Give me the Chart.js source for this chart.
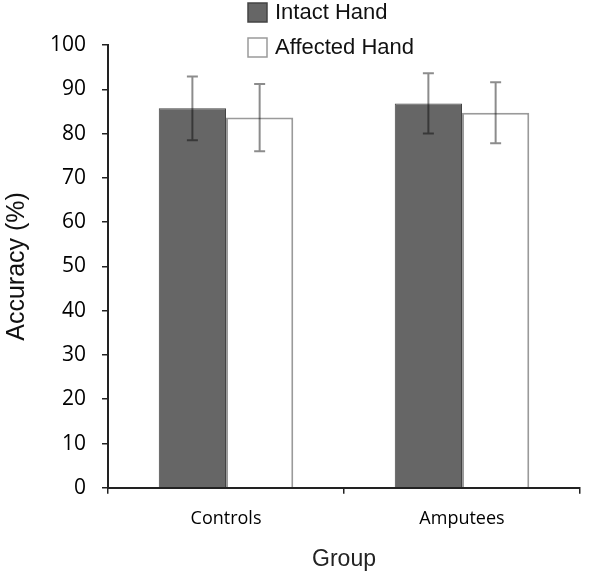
<!DOCTYPE html>
<html>
<head>
<meta charset="utf-8">
<script src="https://cdn.jsdelivr.net/npm/chart.js@4"></script>
<style>
  html, body { margin: 0; padding: 0; background: #fff; }
  #wrap { width: 600px; height: 574px; position: relative; }
</style>
</head>
<body>
<div id="wrap"><canvas id="chart"></canvas></div>
<script>
// ─── Data ─────────────────────────────────────────────────────────────────────
const groups     = ['Controls', 'Amputees'];
const intactMean = [85.7, 86.8];
const intactSd   = [7.2, 6.8];
const affectMean = [83.6, 84.7];
const affectSd   = [7.6, 6.9];
const yTicks     = [0, 10, 20, 30, 40, 50, 60, 70, 80, 90, 100];

const sdByDataset = [intactSd, affectSd];

// ─── Error bars ───────────────────────────────────────────────────────────────
const errorBars = {
  id: 'errorBars',
  afterDatasetsDraw(chart) {
    const { ctx, scales: { y } } = chart;
    ctx.save();
    ctx.strokeStyle = 'rgba(0,0,0,0.45)';
    ctx.lineWidth = 2;
    chart.data.datasets.forEach((ds, di) => {
      chart.getDatasetMeta(di).data.forEach((bar, i) => {
        const m = ds.data[i], sd = sdByDataset[di][i];
        const top = y.getPixelForValue(m + sd);
        const bot = y.getPixelForValue(m - sd);
        const x = bar.x;
        ctx.beginPath();
        ctx.moveTo(x, top); ctx.lineTo(x, bot);
        ctx.moveTo(x - 5.5, top); ctx.lineTo(x + 5.5, top);
        ctx.moveTo(x - 5.5, bot); ctx.lineTo(x + 5.5, bot);
        ctx.stroke();
      });
    });
    ctx.restore();
  }
};

// ─── Stacked legend, top centre ───────────────────────────────────────────────
const stackedLegend = {
  id: 'stackedLegend',
  afterDraw(chart) {
    const { ctx } = chart;
    ctx.save();
    ctx.font = '22px "Liberation Sans", Arial, sans-serif';
    ctx.textBaseline = 'middle';
    chart.data.datasets.forEach((ds, i) => {
      const yc = 12 + i * 35;
      ctx.fillStyle = ds.backgroundColor;
      ctx.strokeStyle = ds.borderColor;
      ctx.lineWidth = 1.5;
      ctx.fillRect(248, yc - 9, 19, 19);
      ctx.strokeRect(248, yc - 9, 19, 19);
      ctx.fillStyle = '#111';
      ctx.fillText(ds.label, 275, yc + 1);
    });
    ctx.restore();
  }
};

// ─── Chart ────────────────────────────────────────────────────────────────────
new Chart(document.getElementById('chart'), {
  type: 'bar',
  data: {
    labels: groups,
    datasets: [
      { label: 'Intact Hand', data: intactMean, backgroundColor: '#666666',
        borderColor: '#444444', borderWidth: 1, borderSkipped: 'bottom' },
      { label: 'Affected Hand', data: affectMean, backgroundColor: '#ffffff',
        borderColor: '#9a9a9a', borderWidth: 2, borderSkipped: 'bottom' },
    ]
  },
  options: {
    responsive: true, maintainAspectRatio: false, animation: false,
    layout: { padding: { top: 45, right: 20, left: 2, bottom: 1 } },
    categoryPercentage: 0.57, barPercentage: 1.0,
    plugins: {
      legend: { display: false },
      tooltip: { enabled: false }
    },
    scales: {
      x: {
        grid: { display: true, drawOnChartArea: false, offset: true,
          color: '#222', tickLength: 6, lineWidth: 1.5 },
        border: { display: true, color: '#222', width: 2 },
        ticks: { color: '#000', padding: 14,
          font: { family: '"Open Sans", sans-serif', size: 18 } },
        title: { display: true, text: 'Group', color: '#222',
          padding: { top: 2, bottom: 0 },
          font: { family: '"Liberation Sans", Arial, sans-serif', size: 23 } }
      },
      y: {
        min: 0, max: 100,
        afterBuildTicks: axis => { axis.ticks = yTicks.map(v => ({ value: v })); },
        grid: { display: true, drawOnChartArea: false,
          color: '#222', tickLength: 6, lineWidth: 1.5 },
        border: { display: true, color: '#222', width: 2 },
        ticks: { color: '#000', padding: 16,
          font: { family: '"Open Sans", sans-serif', size: 21 } },
        title: { display: true, text: 'Accuracy (%)', color: '#111',
          padding: { top: 0, bottom: 2 },
          font: { family: '"Liberation Sans", Arial, sans-serif', size: 25 } }
      }
    }
  },
  plugins: [errorBars, stackedLegend]
});
</script>
</body>
</html>
